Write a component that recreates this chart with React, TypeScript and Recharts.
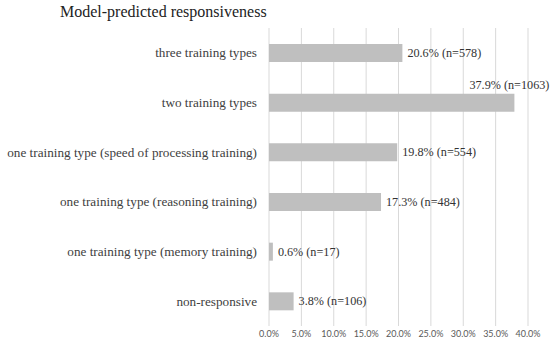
import React from "react";
import { BarChart, Bar, XAxis, YAxis, CartesianGrid, LabelList } from "recharts";

const categories = [
  "three training types",
  "two training types",
  "one training type (speed of processing training)",
  "one training type (reasoning training)",
  "one training type (memory training)",
  "non-responsive",
];
const shares = [0.206, 0.379, 0.198, 0.173, 0.006, 0.038];
const counts = [578, 1063, 554, 484, 17, 106];
const xTicks = [0, 0.05, 0.1, 0.15, 0.2, 0.25, 0.3, 0.35, 0.4];
const title = "Model-predicted responsiveness";

const data = categories.map((c, i) => ({ name: c, value: shares[i], n: counts[i] }));

const SERIF = "Liberation Serif";

const BarLabel = (props: any) => {
  const { x, y, width, height, index } = props;
  const d = data[index];
  const text = `${(d.value * 100).toFixed(1)}% (n=${d.n})`;
  const end = x + width;
  const above = d.value > 0.3;
  if (above) {
    return (
      <text x={end - 5} y={y - 9} textAnchor="middle" dominantBaseline="central" style={{ fontFamily: SERIF, fontSize: 12.2 }} fill="#333">
        {text}
      </text>
    );
  }
  return (
    <text x={end + 5} y={y + height / 2} textAnchor="start" dominantBaseline="central" style={{ fontFamily: SERIF, fontSize: 12.2 }} fill="#333">
      {text}
    </text>
  );
};

const CatTick = (props: any) => {
  const { x, y, payload } = props;
  return (
    <text x={x} y={y} textAnchor="end" dominantBaseline="central" style={{ fontFamily: SERIF, fontSize: 13.2 }} fill="#404040">
      {payload.value}
    </text>
  );
};

export default function App() {
  return (
    <div style={{ position: "absolute", left: 0, top: 0, width: 550, height: 345, background: "#fff" }}>
      <div
        style={{
          position: "absolute",
          left: 60,
          top: 2,
          fontFamily: SERIF,
          fontSize: 16,
          color: "#222",
          whiteSpace: "nowrap",
          lineHeight: "20px",
        }}
      >
        {title}
      </div>
      <BarChart
        width={550}
        height={345}
        data={data}
        layout="vertical"
        margin={{ top: 28, right: 22, bottom: 0, left: 0 }}
        barCategoryGap={0}
      >
        <CartesianGrid horizontal={false} vertical={true} stroke="#d9d9d9" />
        <XAxis
          type="number"
          domain={[0, 0.4]}
          ticks={xTicks}
          tickFormatter={(v: number) => `${(v * 100).toFixed(1)}%`}
          axisLine={false}
          tickLine={false}
          tickSize={0}
          tickMargin={5}
          height={19}
          interval={0}
          tick={{ fontFamily: "Lato", fontSize: 9, fill: "#595959" }}
        />
        <YAxis
          type="category"
          dataKey="name"
          width={269}
          axisLine={false}
          tickLine={false}
          tickSize={0}
          tickMargin={12}
          interval={0}
          tick={<CatTick />}
        />
        <Bar dataKey="value" fill="#bfbfbf" barSize={18} isAnimationActive={false}>
          <LabelList dataKey="value" content={BarLabel} />
        </Bar>
      </BarChart>
    </div>
  );
}
